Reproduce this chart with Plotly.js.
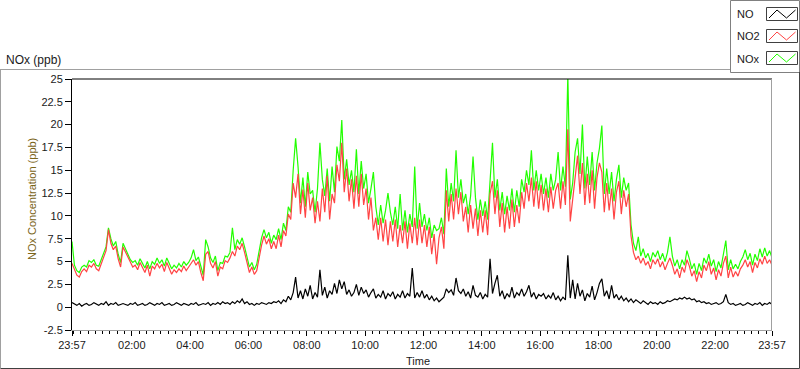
<!DOCTYPE html>
<html>
<head>
<meta charset="utf-8">
<script src="https://cdn.plot.ly/plotly-3.0.1.min.js"></script>
<style>html,body{margin:0;padding:0;background:#fff;}#chart{width:800px;height:369px;}</style>
</head>
<body>
<div id="chart"></div>
<script>
// ---- Data: 5-minute samples from 23:57 to 23:57 (289 samples) (ppb)
const startTime = "2024-01-01 23:57";
const sampleMinutes = 5;

const no2 = [
4.8,4.2,3.5,3.3,3.9,4.2,3.9,4.6,4.4,4.8,4.2,4.0,
4.7,5.3,6.2,8.5,7.0,6.3,6.7,5.3,4.4,6.6,6.0,5.4,
4.8,4.4,4.6,4.1,4.9,4.3,3.8,4.6,3.4,4.5,4.2,4.8,
4.3,4.7,3.9,4.9,4.3,3.6,4.1,3.8,4.2,3.9,4.5,4.0,
4.4,4.8,5.2,4.6,5.0,3.8,2.9,5.8,6.1,4.8,4.3,5.0,
3.4,4.4,4.2,5.1,4.9,5.4,6.1,5.6,6.7,6.3,7.0,6.0,
5.0,3.8,4.4,3.6,4.0,5.5,6.8,7.8,6.9,7.5,6.4,7.2,
6.4,7.9,6.6,8.4,7.8,10.2,9.6,13.6,12.0,14.6,10.2,12.9,
9.8,13.6,10.6,12.0,9.2,11.6,9.4,13.0,10.4,14.4,9.6,12.4,
11.4,15.6,13.8,18.0,12.6,15.2,11.6,14.0,10.8,14.4,11.0,14.6,
11.2,13.0,9.6,12.0,8.4,9.8,7.4,9.8,7.2,9.6,6.8,9.4,
7.2,9.6,6.6,9.0,7.0,9.4,6.4,9.2,7.0,9.8,6.8,9.6,
7.0,9.0,6.6,8.8,5.8,8.0,4.7,7.6,8.8,6.4,12.8,9.4,
12.4,9.6,13.0,10.2,12.6,9.4,11.0,8.2,11.2,8.6,10.8,7.8,
10.6,8.2,10.6,7.9,12.4,13.8,10.2,12.8,8.8,11.4,8.2,11.0,
8.6,11.8,8.8,11.2,9.2,12.6,10.8,13.6,11.6,14.2,11.0,13.8,
10.8,13.4,10.6,13.0,10.4,13.2,10.8,12.8,13.6,10.8,13.8,11.2,
19.5,9.4,11.8,14.8,16.6,12.4,15.8,11.2,14.6,11.4,15.0,10.8,
14.2,15.8,14.8,10.4,13.6,10.6,13.0,9.6,12.6,13.8,10.2,12.8,
11.0,12.4,7.8,6.0,5.2,5.6,4.8,5.4,4.6,5.0,4.2,5.2,
4.7,5.3,4.4,5.0,4.1,4.8,5.4,4.6,3.6,4.2,3.2,4.4,
3.8,5.2,4.5,3.4,4.0,2.8,3.9,3.2,4.6,4.0,5.0,3.6,
4.3,3.0,4.1,3.4,4.8,5.6,3.2,4.4,3.3,3.9,3.4,4.2,
4.6,5.2,4.4,5.0,3.8,4.9,4.3,5.3,4.7,5.6,4.8,5.2,
4.6
];

const nox = [
7.2,4.6,4.0,3.8,4.4,4.6,4.4,5.1,4.9,5.2,4.6,4.5,
5.2,5.8,6.6,8.7,7.5,6.7,7.2,5.8,4.9,7.0,6.4,5.9,
5.2,4.9,5.1,4.6,5.3,4.8,4.3,5.0,4.2,5.0,4.7,5.4,
4.8,5.2,4.5,5.4,4.8,4.2,4.6,4.3,4.8,4.4,5.0,4.6,
4.9,5.4,6.3,5.1,5.5,4.4,3.5,7.4,6.6,5.4,4.9,5.6,
4.0,4.9,4.8,5.6,5.5,6.0,8.7,6.3,7.4,6.9,7.6,6.6,
5.6,4.4,4.9,4.1,4.7,6.2,7.6,8.5,7.6,8.2,7.0,7.9,
7.4,8.6,7.4,9.2,8.4,11.0,10.4,15.0,18.5,15.4,11.4,14.2,
11.0,14.8,12.4,12.8,10.4,13.0,18.0,14.0,12.2,15.2,11.6,15.4,
12.6,17.6,16.0,20.5,14.0,16.2,13.4,15.0,12.6,17.3,12.4,16.0,
13.0,14.6,11.4,13.0,14.8,11.0,9.0,11.2,9.2,10.6,12.5,10.4,
9.0,11.0,8.6,12.4,8.4,10.6,8.2,10.2,8.8,15.4,8.6,11.4,
8.8,10.2,8.4,9.8,7.6,9.0,8.4,8.6,9.8,8.0,15.2,11.0,
13.6,11.6,17.2,12.0,14.0,11.4,12.4,10.2,12.2,16.5,12.0,9.6,
11.8,10.0,11.6,9.6,13.6,18.0,12.0,14.0,10.6,12.6,10.2,12.2,
10.6,13.0,10.4,12.8,11.0,14.0,12.6,15.0,13.4,17.2,12.8,15.0,
12.8,14.6,12.4,14.2,12.0,14.6,12.8,14.0,17.0,12.8,15.4,13.2,
25.5,11.8,13.6,17.0,18.5,14.6,20.0,13.0,16.5,13.4,17.0,12.8,
15.8,17.4,19.9,12.4,15.2,12.4,14.8,11.6,14.0,15.6,12.0,14.2,
12.8,13.6,9.0,7.0,6.2,7.7,5.6,6.4,5.4,5.9,5.0,6.0,
5.5,6.2,5.2,5.9,5.0,6.0,7.7,5.6,4.5,5.2,4.2,5.2,
4.6,6.2,5.3,4.2,4.8,3.6,4.8,4.0,5.4,4.8,5.8,4.5,
5.2,3.9,5.0,4.3,5.8,7.3,4.1,5.2,4.2,4.7,4.2,5.0,
5.5,6.3,5.2,5.9,4.6,5.8,5.1,6.4,5.5,6.5,5.6,6.2,
5.4
];

const no = [
0.5,0.3,0.2,0.4,0.1,0.3,0.4,0.2,0.3,0.5,0.3,0.2,
0.4,0.3,0.6,0.2,0.4,0.3,0.5,0.2,0.3,0.4,0.3,0.2,
0.4,0.3,0.5,0.2,0.3,0.4,0.2,0.3,0.5,0.3,0.2,0.4,
0.3,0.5,0.2,0.3,0.4,0.2,0.3,0.5,0.3,0.2,0.4,0.3,
0.2,0.4,0.3,0.5,0.2,0.3,0.4,0.3,0.5,0.2,0.4,0.3,
0.5,0.3,0.6,0.4,0.5,0.3,0.6,0.4,0.7,0.5,0.9,0.4,
0.6,0.3,0.4,0.2,0.4,0.3,0.5,0.4,0.3,0.5,0.4,0.6,
0.5,0.7,0.4,0.8,0.6,1.2,0.8,1.6,3.3,1.0,1.8,0.9,
2.0,1.2,2.4,0.9,1.6,1.1,4.1,1.3,2.2,1.0,1.8,1.4,
2.6,1.5,3.0,2.0,2.8,1.4,1.9,1.2,1.6,2.5,1.3,2.2,
1.5,1.9,1.1,1.6,2.0,1.0,1.4,1.1,1.8,0.9,1.5,1.2,
1.7,0.9,1.4,1.1,1.8,1.0,1.5,1.2,4.3,1.0,1.6,1.1,
1.8,1.0,1.4,0.8,1.2,0.7,1.0,0.6,0.9,1.1,2.0,1.6,
1.9,1.3,3.2,1.8,1.5,2.0,1.2,1.7,1.0,2.4,1.3,1.1,
1.6,0.9,1.4,1.1,5.3,1.5,2.6,3.5,1.2,1.8,0.9,1.5,
1.1,2.2,1.0,1.6,1.3,2.0,1.2,1.7,2.4,1.1,1.6,0.9,
1.4,1.2,1.5,0.9,1.3,1.0,1.6,0.8,1.2,0.7,1.1,0.8,
5.7,1.0,3.0,0.9,2.6,1.2,1.9,0.7,1.5,1.1,2.3,0.8,
1.6,2.6,3.1,1.2,1.8,0.9,2.4,1.0,1.4,0.8,1.2,0.7,
1.0,0.6,0.9,0.5,0.8,0.6,0.4,0.7,0.5,0.3,0.6,0.4,
0.5,0.3,0.6,0.4,0.5,0.7,0.6,0.8,0.9,0.8,1.0,0.9,
1.1,0.9,1.0,0.8,0.9,0.6,0.7,0.5,0.6,0.4,0.5,0.3,
0.4,0.5,0.3,0.4,0.6,1.4,0.5,0.3,0.4,0.2,0.3,0.4,
0.2,0.3,0.5,0.3,0.2,0.4,0.3,0.5,0.2,0.4,0.3,0.5,
0.3
];

const xTickVals = ["2024-01-01 23:57","2024-01-02 02:00","2024-01-02 04:00","2024-01-02 06:00",
  "2024-01-02 08:00","2024-01-02 10:00","2024-01-02 12:00","2024-01-02 14:00","2024-01-02 16:00",
  "2024-01-02 18:00","2024-01-02 20:00","2024-01-02 22:00","2024-01-02 23:57"];
const xTickText = ["23:57","02:00","04:00","06:00","08:00","10:00","12:00","14:00","16:00","18:00","20:00","22:00","23:57"];
const yTickVals = [-2.5,0,2.5,5,7.5,10,12.5,15,17.5,20,22.5,25];
const yTickText = ["-2.5","0","2.5","5","7.5","10","12.5","15","17.5","20","22.5","25"];
const legendNames = ["NO","NO2","NOx"];
const colors = {NO:"#000000", NO2:"#FF4444", NOx:"#22FF00"};

// ---- sample times
const t0 = new Date(startTime.replace(" ","T")+":00Z").getTime();
const times = no2.map((_, i) => t0 + i*sampleMinutes*60000);
const endTime = t0 + 24*60*60000;

// ---- geometry helpers (pixel -> paper)
const L=72, T=79, W=700, H=251;
const px = x => (x-L)/W;
const py = y => (T+H-y)/H;

const FONT = "Liberation Sans, Arial, sans-serif";

const traces = [
  {x: times, y: nox, type:"scatter", mode:"lines", name:"NOx", line:{color:colors.NOx, width:1.2}},
  {x: times, y: no2, type:"scatter", mode:"lines", name:"NO2", line:{color:colors.NO2, width:1.2}},
  {x: times, y: no,  type:"scatter", mode:"lines", name:"NO",  line:{color:colors.NO,  width:1.2}}
];

const shapes = [];
function line(x0,y0,x1,y1,color){ shapes.push({type:"line",xref:"paper",yref:"paper",x0:px(x0),y0:py(y0),x1:px(x1),y1:py(y1),line:{color:color,width:1}}); }
function rect(x0,y0,x1,y1,color){ shapes.push({type:"rect",xref:"paper",yref:"paper",x0:px(x0),y0:py(y0),x1:px(x1),y1:py(y1),line:{color:color,width:1},fillcolor:"#ffffff",layer:"below"}); }
// plot frame top / right
line(72,79,772,79,"#000000");
line(771.5,79,771.5,330,"#a0a0a0");
// outer panel frame
line(0,69.5,730,69.5,"#a0a0a0");
line(0.5,69.5,0.5,368.5,"#a0a0a0");
line(0.5,368.5,799.5,368.5,"#404040");
line(799.5,72,799.5,368.5,"#404040");
// legend box
rect(730.5,0.5,799.5,72.5,"#808080");
const annotations = [];
const rows = [[7.5,20.5,14],[29.5,42.5,36],[51.5,64.5,58.5]];
legendNames.forEach((nm,k)=>{
  const [yt,yb,yc] = rows[k];
  rect(766.5,yt,797.5,yb,"#404040");
  const pts = [[769,yb-2.5],[777,yt+2.5],[786.5,yb-2.5],[795.5,yt+2.5]];
  const path = "M " + pts.map(p=>px(p[0])+","+py(p[1])).join(" L ");
  shapes.push({type:"path",xref:"paper",yref:"paper",path:path,line:{color:colors[nm],width:1}});
  annotations.push({xref:"paper",yref:"paper",x:px(735),y:py(yc),xanchor:"left",yanchor:"middle",showarrow:false,
    text:nm,font:{family:FONT,size:11,color:"#1a1a1a"}});
});
annotations.push({xref:"paper",yref:"paper",x:px(4),y:py(60),xanchor:"left",yanchor:"middle",showarrow:false,
  text:"NOx (ppb)",font:{family:FONT,size:12,color:"#1a1a1a"}});
annotations.push({xref:"paper",yref:"paper",x:px(32),y:py(199),xanchor:"center",yanchor:"middle",showarrow:false,textangle:-90,
  text:"NOx Concentration (ppb)",font:{family:FONT,size:11,color:"#7a6418"}});
annotations.push({xref:"paper",yref:"paper",x:px(418),y:py(361),xanchor:"center",yanchor:"middle",showarrow:false,
  text:"Time",font:{family:FONT,size:11,color:"#1a1a1a"}});

const layout = {
  width:800, height:369,
  margin:{l:L, r:800-L-W, t:T, b:369-T-H, pad:0},
  paper_bgcolor:"#ffffff", plot_bgcolor:"#ffffff",
  showlegend:false,
  font:{family:FONT,size:11,color:"#1a1a1a"},
  xaxis:{
    type:"date", range:[t0, endTime], fixedrange:true,
    tickmode:"array", tickvals:xTickVals, ticktext:xTickText,
    ticks:"outside", ticklen:5, tickwidth:1, tickcolor:"#000000",
    showline:true, linecolor:"#a0a0a0", linewidth:1, mirror:false,
    showgrid:false, zeroline:false,
    tickfont:{family:FONT,size:11,color:"#1a1a1a"},
    minor:{tickmode:"linear", tick0:"2024-01-02 00:00", dtick:15*60000, ticks:"outside", ticklen:3, tickcolor:"#000000", showgrid:false}
  },
  yaxis:{
    range:[-2.5,25], fixedrange:true,
    tickmode:"array", tickvals:yTickVals, ticktext:yTickText,
    ticks:"outside", ticklen:6, tickwidth:1, tickcolor:"#000000",
    showline:true, linecolor:"#000000", linewidth:1, mirror:false,
    showgrid:false, zeroline:false,
    tickfont:{family:FONT,size:11,color:"#1a1a1a"}
  },
  shapes:shapes,
  annotations:annotations
};

Plotly.newPlot("chart", traces, layout, {staticPlot:true, displayModeBar:false});
</script>
</body>
</html>
